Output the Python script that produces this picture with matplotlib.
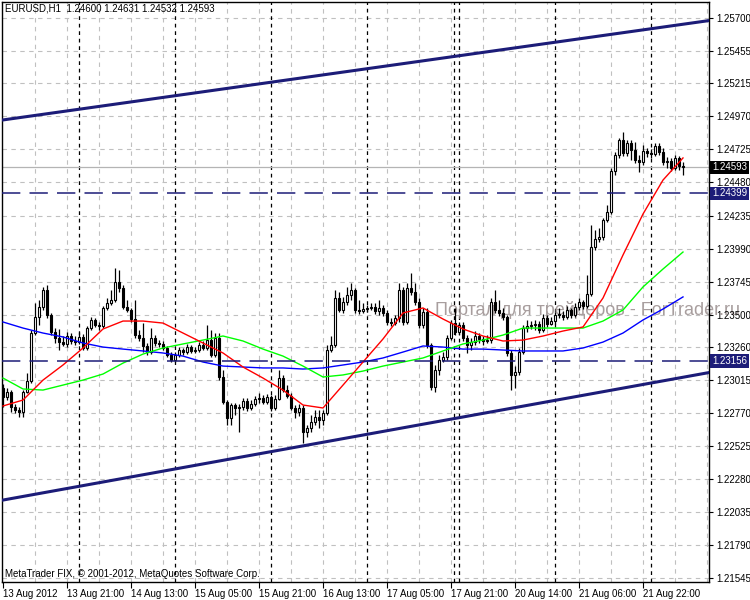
import numpy as np
import matplotlib
matplotlib.use('Agg')
import matplotlib.pyplot as plt

plt.rcParams['font.family'] = ['Liberation Sans', 'DejaVu Sans']

# EURUSD H1 candles, bar 0 = 13 Aug 05:00
first_open = 1.22955
closes = [
    1.22888, 1.22925, 1.22814, 1.22792, 1.22777, 1.22925, 1.23007, 1.23363, 1.23482, 1.23556,
    1.23683, 1.23497, 1.23371, 1.23326, 1.23296, 1.23282, 1.23341, 1.23304, 1.23296, 1.23334,
    1.23252, 1.23400, 1.23460, 1.23422, 1.23415, 1.23549, 1.23586, 1.23608, 1.23742, 1.23698,
    1.23556, 1.23534, 1.23467, 1.23348, 1.23326, 1.23267, 1.23222, 1.23326, 1.23289, 1.23282,
    1.23252, 1.23200, 1.23163, 1.23200, 1.23237, 1.23222, 1.23259, 1.23230, 1.23237, 1.23274,
    1.23252, 1.23311, 1.23200, 1.23326, 1.23037, 1.22851, 1.22732, 1.22829, 1.22807, 1.22814,
    1.22859, 1.22807, 1.22837, 1.22874, 1.22881, 1.22851, 1.22888, 1.22807, 1.22874, 1.23029,
    1.22940, 1.22896, 1.22807, 1.22777, 1.22807, 1.22629, 1.22658, 1.22703, 1.22740, 1.22718,
    1.22770, 1.23237, 1.23274, 1.23623, 1.23534, 1.23593, 1.23645, 1.23683, 1.23534, 1.23527,
    1.23541, 1.23549, 1.23556, 1.23527, 1.23549, 1.23512, 1.23445, 1.23437, 1.23474, 1.23683,
    1.23445, 1.23698, 1.23668, 1.23593, 1.23422, 1.23519, 1.23274, 1.22962, 1.23089, 1.23163,
    1.23185, 1.23326, 1.23437, 1.23371, 1.23422, 1.23326, 1.23274, 1.23296, 1.23341, 1.23319,
    1.23304, 1.23311, 1.23593, 1.23534, 1.23512, 1.23482, 1.23215, 1.23052, 1.23074, 1.23222,
    1.23400, 1.23415, 1.23422, 1.23430, 1.23385, 1.23474, 1.23430, 1.23452, 1.23497, 1.23497,
    1.23482, 1.23534, 1.23497, 1.23556, 1.23593, 1.23564, 1.23653, 1.24001, 1.24061, 1.24076,
    1.24202, 1.24261, 1.24566, 1.24684, 1.24795, 1.24699, 1.24773, 1.24721, 1.24647, 1.24632,
    1.24714, 1.24699, 1.24691, 1.24751, 1.24706, 1.24632, 1.24639, 1.24588, 1.24662, 1.24600,
    1.24593]
highs = [
    1.22985, 1.22955, 1.22940, 1.22837, 1.22814, 1.22940, 1.23066, 1.23385, 1.23586, 1.23608,
    1.23705, 1.23720, 1.23512, 1.23400, 1.23393, 1.23341, 1.23371, 1.23363, 1.23341, 1.23371,
    1.23356, 1.23415, 1.23482, 1.23474, 1.23445, 1.23564, 1.23623, 1.23683, 1.23846, 1.23831,
    1.23720, 1.23608, 1.23549, 1.23608, 1.23385, 1.23437, 1.23289, 1.23400, 1.23348, 1.23311,
    1.23304, 1.23267, 1.23222, 1.23222, 1.23259, 1.23252, 1.23282, 1.23274, 1.23259, 1.23296,
    1.23304, 1.23422, 1.23385, 1.23363, 1.23363, 1.23089, 1.22866, 1.22844, 1.22844, 1.22837,
    1.22881, 1.22881, 1.22866, 1.22896, 1.22918, 1.22903, 1.22911, 1.22903, 1.22903, 1.23089,
    1.23052, 1.22977, 1.22918, 1.22829, 1.22837, 1.22829, 1.22681, 1.22755, 1.22792, 1.22792,
    1.22792, 1.23274, 1.23341, 1.23683, 1.23668, 1.23631, 1.23705, 1.23735, 1.23698, 1.23608,
    1.23586, 1.23571, 1.23586, 1.23586, 1.23608, 1.23571, 1.23534, 1.23474, 1.23497, 1.23735,
    1.23705, 1.23735, 1.23808, 1.23735, 1.23623, 1.23549, 1.23549, 1.23289, 1.23126, 1.23200,
    1.23222, 1.23348, 1.23460, 1.23549, 1.23445, 1.23445, 1.23348, 1.23326, 1.23378, 1.23363,
    1.23341, 1.23348, 1.23623, 1.23683, 1.23608, 1.23549, 1.23497, 1.23237, 1.23118, 1.23252,
    1.23422, 1.23460, 1.23452, 1.23460, 1.23452, 1.23504, 1.23497, 1.23482, 1.23519, 1.23549,
    1.23527, 1.23564, 1.23549, 1.23586, 1.23623, 1.23608, 1.23794, 1.24165, 1.24128, 1.24142,
    1.24216, 1.24313, 1.24588, 1.24706, 1.24810, 1.24855, 1.24795, 1.24795, 1.24780, 1.24684,
    1.24758, 1.24736, 1.24728, 1.24773, 1.24773, 1.24736, 1.24669, 1.24662, 1.24684, 1.24676,
    1.24631]
lows = [
    1.22814, 1.22866, 1.22777, 1.22770, 1.22740, 1.22740, 1.22918, 1.22992, 1.23348, 1.23422,
    1.23534, 1.23474, 1.23348, 1.23289, 1.23237, 1.23267, 1.23259, 1.23282, 1.23274, 1.23282,
    1.23237, 1.23237, 1.23385, 1.23408, 1.23385, 1.23400, 1.23534, 1.23571, 1.23593, 1.23668,
    1.23541, 1.23519, 1.23445, 1.23326, 1.23304, 1.23222, 1.23200, 1.23207, 1.23267, 1.23259,
    1.23237, 1.23185, 1.23148, 1.23148, 1.23185, 1.23200, 1.23207, 1.23215, 1.23215, 1.23222,
    1.23237, 1.23237, 1.23185, 1.23185, 1.23014, 1.22837, 1.22681, 1.22681, 1.22755, 1.22629,
    1.22792, 1.22784, 1.22792, 1.22822, 1.22844, 1.22837, 1.22837, 1.22784, 1.22792, 1.22866,
    1.22925, 1.22881, 1.22792, 1.22732, 1.22747, 1.22547, 1.22592, 1.22629, 1.22681, 1.22658,
    1.22681, 1.22755, 1.23222, 1.23259, 1.23519, 1.23512, 1.23571, 1.23608, 1.23512, 1.23504,
    1.23512, 1.23519, 1.23534, 1.23504, 1.23497, 1.23489, 1.23422, 1.23415, 1.23422, 1.23445,
    1.23422, 1.23430, 1.23645, 1.23571, 1.23400, 1.23400, 1.23252, 1.22940, 1.22925, 1.23052,
    1.23148, 1.23163, 1.23311, 1.23348, 1.23348, 1.23304, 1.23215, 1.23237, 1.23274, 1.23289,
    1.23274, 1.23289, 1.23289, 1.23512, 1.23489, 1.23460, 1.23192, 1.22940, 1.22955, 1.23052,
    1.23207, 1.23371, 1.23393, 1.23385, 1.23363, 1.23371, 1.23408, 1.23422, 1.23430, 1.23474,
    1.23460, 1.23467, 1.23474, 1.23482, 1.23534, 1.23541, 1.23549, 1.23638, 1.23979, 1.24038,
    1.24054, 1.24187, 1.24246, 1.24536, 1.24662, 1.24676, 1.24676, 1.24647, 1.24625, 1.24558,
    1.24610, 1.24669, 1.24662, 1.24676, 1.24684, 1.24610, 1.24588, 1.24566, 1.24573, 1.24573,
    1.24532]

# moving averages read every 5 bars
ma_bars = list(range(0, 171, 5))
ma_red = [1.22822, 1.22866, 1.23014, 1.23126, 1.23252, 1.23393, 1.23452, 1.23452, 1.23437, 1.23363,
          1.23289, 1.23215, 1.23111, 1.23029, 1.22940, 1.22829, 1.22807, 1.22977, 1.23148, 1.23319,
          1.23512, 1.23549, 1.23467, 1.23393, 1.23341, 1.23304, 1.23311, 1.23341, 1.23378, 1.23408,
          1.23623, 1.23942, 1.24246, 1.24498, 1.24662]
ma_green = [1.23029, 1.22948, 1.22940, 1.22977, 1.23014, 1.23059, 1.23140, 1.23207, 1.23252, 1.23282,
            1.23311, 1.23341, 1.23304, 1.23244, 1.23192, 1.23118, 1.23037, 1.23052, 1.23081, 1.23118,
            1.23148, 1.23178, 1.23230, 1.23282, 1.23311, 1.23348, 1.23400, 1.23400, 1.23400, 1.23400,
            1.23452, 1.23534, 1.23705, 1.23838, 1.23964]
ma_blue = [1.23445, 1.23400, 1.23363, 1.23334, 1.23289, 1.23259, 1.23244, 1.23230, 1.23215, 1.23192,
           1.23148, 1.23118, 1.23111, 1.23104, 1.23104, 1.23096, 1.23104, 1.23126, 1.23148, 1.23178,
           1.23222, 1.23267, 1.23259, 1.23244, 1.23244, 1.23237, 1.23230, 1.23230, 1.23230, 1.23252,
           1.23296, 1.23363, 1.23460, 1.23541, 1.23631]

channel_upper = [(0, 1.24944), (170, 1.25654)]
channel_lower = [(0, 1.22124), (170, 1.23035)]
levels = [1.24399, 1.23156]
bid = 1.24593

day_breaks = [19, 43, 67, 91, 112.8, 114, 138, 162]
time_ticks = [0, 16, 32, 48, 64, 80, 96, 112, 128, 144, 160]
time_labels = ['13 Aug 2012', '13 Aug 21:00', '14 Aug 13:00', '15 Aug 05:00', '15 Aug 21:00',
               '16 Aug 13:00', '17 Aug 05:00', '17 Aug 21:00', '20 Aug 14:00', '21 Aug 06:00',
               '21 Aug 22:00']
price_ticks = [1.21545, 1.21790, 1.22035, 1.22280, 1.22525, 1.22770, 1.23015, 1.23260, 1.23500,
               1.23745, 1.23990, 1.24235, 1.24480, 1.24725, 1.24970, 1.25215, 1.25455, 1.25700]

navy = '#1c1c78'

fig = plt.figure(figsize=(7.5, 6), dpi=100)
ax = fig.add_axes([2 / 750, 18 / 600, 707 / 750, 580 / 600])
ax.set_xlim(-0.25, 176.5)
ax.set_ylim(1.21516, 1.25819)

# grid
for p in price_ticks:
    ax.axhline(p, color='#c0c0c0', lw=0.8, ls=(0, (4, 4)), zorder=0.5)
for g in range(8, 177, 8):
    ax.axvline(g, color='#c0c0c0', lw=0.8, ls=(0, (4, 4)), zorder=0.5)
for d in day_breaks:
    ax.axvline(d, color='black', lw=0.9, ls=(0, (3, 3)), zorder=0.6)

# watermark
ax.text(0.6125, 0.469, 'Портал для трейдеров - ForTrader.ru', transform=ax.transAxes,
        fontsize=13, color='#a89e9e', va='center', ha='left', clip_on=False, zorder=1)

# candles
c = np.array(closes)
o = np.array([first_open] + closes[:-1])
h = np.maximum(np.array(highs), np.maximum(o, c))
l = np.minimum(np.array(lows), np.minimum(o, c))
x = np.arange(len(c))
ax.vlines(x, l, h, color='black', lw=0.9, zorder=3)
body_lo = np.minimum(o, c)
body_h = np.maximum(np.abs(c - o), 0.00005)
colors = ['white' if cc >= oo else 'black' for oo, cc in zip(o, c)]
ax.bar(x, body_h, bottom=body_lo, width=0.6, color=colors, edgecolor='black', lw=0.8, zorder=4)

# moving averages
ax.plot(ma_bars, ma_blue, color='#0000ff', lw=1, zorder=5)
ax.plot(ma_bars, ma_green, color='#00ff00', lw=1, zorder=5)
ax.plot(ma_bars, ma_red, color='#ff0000', lw=1, zorder=5)

# channel and levels
ax.axline(channel_upper[0], channel_upper[1], color=navy, lw=2.2, zorder=6)
ax.axline(channel_lower[0], channel_lower[1], color=navy, lw=2.2, zorder=6)
for lv in levels:
    ax.axhline(lv, color=navy, lw=1.1, ls=(0, (12, 6)), zorder=6)
ax.axhline(bid, color='#b4b4b4', lw=0.9, zorder=2)

# axes styling
for s in ax.spines.values():
    s.set_color('black')
    s.set_linewidth(1)
ax.yaxis.tick_right()
ax.set_yticks(price_ticks)
ax.set_yticklabels(['%.5f' % p for p in price_ticks])
ax.tick_params(axis='y', direction='out', length=3, width=0.8, pad=2, labelsize=7)
ax.set_xticks(time_ticks)
ax.set_xticklabels(time_labels)
ax.tick_params(axis='x', direction='out', length=4, width=0.8, pad=1, labelsize=7)
for t in ax.get_xticklabels():
    t.set_ha('left')

# price boxes on the scale
for p, bg in [(bid, 'black'), (levels[0], navy), (levels[1], navy)]:
    ax.text(1.004, p, '%.5f' % p, transform=ax.get_yaxis_transform(), color='white', fontsize=7,
            va='center', ha='left', clip_on=False, zorder=10,
            bbox=dict(boxstyle='square,pad=0.18', fc=bg, ec='none'))

ax.text(0.004, 0.997, 'EURUSD,H1  1.24600 1.24631 1.24532 1.24593', transform=ax.transAxes,
        fontsize=7, va='top', ha='left', zorder=10)
ax.text(0.004, 0.008, 'MetaTrader FIX, © 2001-2012, MetaQuotes Software Corp.', transform=ax.transAxes,
        fontsize=7, va='baseline', ha='left', zorder=10)

fig.savefig('out.png', dpi=100, facecolor='white')
